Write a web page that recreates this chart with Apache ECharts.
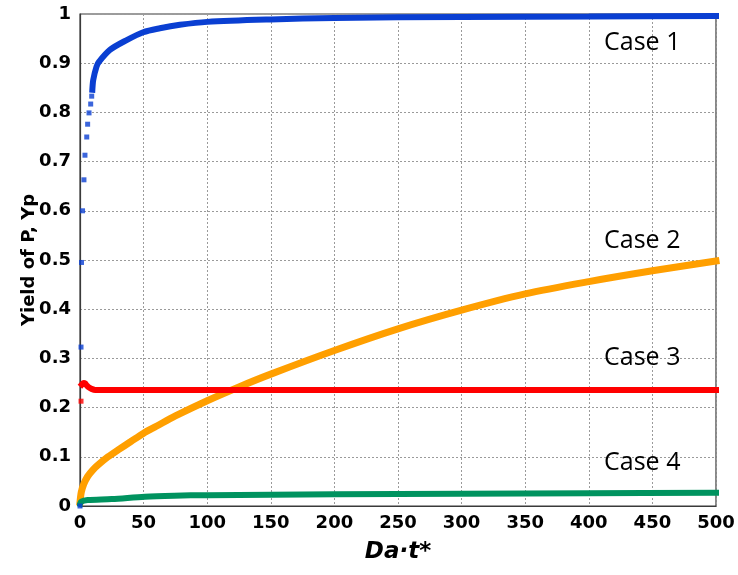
<!DOCTYPE html>
<html>
<head>
<meta charset="utf-8">
<script src="https://cdn.jsdelivr.net/npm/echarts@6/dist/echarts.min.js"></script>
<style>
  html, body { margin: 0; padding: 0; background: #fff; }
  #chart { width: 738px; height: 575px; }
</style>
</head>
<body>
<div id="chart"></div>
<script>
// Dimensionless time Da·t* against yield of P for four cases.
const xTicks = [0, 50, 100, 150, 200, 250, 300, 350, 400, 450, 500];
const yTicks = [0, 0.1, 0.2, 0.3, 0.4, 0.5, 0.6, 0.7, 0.8, 0.9, 1];

// Case 1: first samples are far apart, then the curve becomes dense
const case1Early = [[0, 0], [0.8, 0.323], [1.2, 0.495], [2.0, 0.6], [3.1, 0.663], [3.9, 0.713],
  [5.3, 0.75], [6.0, 0.776], [7.1, 0.799], [8.4, 0.817], [9.2, 0.833]];
const case1Curve = [[9.7, 0.846], [10.4, 0.866], [13, 0.893], [15, 0.903], [23.5, 0.927],
  [36.7, 0.947], [49.7, 0.963], [62.8, 0.971], [78.5, 0.978], [100, 0.984], [150, 0.989],
  [200, 0.992], [300, 0.994], [400, 0.995], [500, 0.996]];

// Case 2
const case2Curve = [[0, 0.008], [1, 0.028], [3, 0.045], [6, 0.06], [10, 0.073], [14, 0.083],
  [22, 0.1], [30, 0.114], [40, 0.131], [50, 0.148], [60, 0.162], [75, 0.183], [100, 0.214],
  [125, 0.242], [150, 0.268], [200, 0.316], [250, 0.360], [300, 0.398], [350, 0.431],
  [400, 0.456], [450, 0.478], [500, 0.498]];

// Case 3
const case3Early = [[0.8, 0.213]];
const case3Curve = [[1.5, 0.247], [3, 0.25], [4, 0.249], [5, 0.246], [7, 0.241], [9, 0.238],
  [12, 0.236], [100, 0.236], [250, 0.236], [500, 0.236]];

// Case 4
const case4Curve = [[0, 0.004], [1, 0.009], [6, 0.012], [25, 0.014], [51, 0.019], [74, 0.021],
  [100, 0.022], [200, 0.024], [300, 0.025], [400, 0.026], [500, 0.027]];

// Case labels, anchored at their left edge / vertical middle in data units
const caseNames = ['Case 1', 'Case 2', 'Case 3', 'Case 4'];
const caseLabelPos = [[412, 0.941], [412, 0.539], [412, 0.301], [412, 0.087]];

const colors = {
  c1: '#0a3fd2',
  c2: '#ff9f00',
  c3: '#ff0000',
  c4: '#00935f'
};

const tickFont = {
  fontFamily: 'DejaVu Sans',
  fontWeight: 'bold',
  fontSize: 18,
  color: '#000'
};

function fmt(v) {
  return String(Math.round(v * 10) / 10);
}

const chart = echarts.init(document.getElementById('chart'), null, { renderer: 'canvas' });

const curveSeries = (name, data, color, width) => ({
  name: name,
  type: 'line',
  data: data,
  smooth: 0.3,
  showSymbol: false,
  symbol: 'none',
  lineStyle: { color: color, width: width, cap: 'square' },
  z: 3,
  animation: false
});

const dotSeries = (name, data, color) => ({
  name: name,
  type: 'scatter',
  data: data,
  symbol: 'rect',
  symbolSize: 5,
  itemStyle: { color: color },
  z: 3,
  animation: false
});

chart.setOption({
  backgroundColor: '#fff',
  animation: false,
  grid: {
    left: 80, right: 22, top: 14, bottom: 69,
    show: true,
    borderColor: '#3a3a3a',
    borderWidth: 1.2
  },
  xAxis: {
    type: 'value',
    min: 0, max: 500, interval: 50,
    name: 'Da·t*',
    nameLocation: 'middle',
    nameGap: 35,
    nameMoveOverlap: false,
    nameTextStyle: {
      fontFamily: 'DejaVu Sans',
      fontWeight: 'bold',
      fontStyle: 'italic',
      fontSize: 23,
      color: '#000'
    },
    axisLine: { show: true, lineStyle: { color: '#3a3a3a', width: 1.2 } },
    axisTick: { show: false },
    axisLabel: Object.assign({ margin: 8, formatter: v => (xTicks.includes(v) ? String(v) : '') }, tickFont),
    splitLine: { show: true, lineStyle: { color: '#9a9a9a', type: [2, 2], width: 1 } }
  },
  yAxis: {
    type: 'value',
    min: 0, max: 1, interval: 0.1,
    name: 'Yield of P, Yp',
    nameLocation: 'middle',
    nameGap: 42,
    nameMoveOverlap: false,
    nameRotate: 90,
    nameTextStyle: {
      fontFamily: 'DejaVu Sans',
      fontWeight: 'bold',
      fontSize: 18,
      color: '#000'
    },
    axisLine: { show: true, lineStyle: { color: '#3a3a3a', width: 1.2 } },
    axisTick: { show: false },
    axisLabel: Object.assign({ margin: 9, formatter: v => fmt(v) }, tickFont),
    splitLine: { show: true, lineStyle: { color: '#9a9a9a', type: [2, 2], width: 1 } }
  },
  series: [
    curveSeries('Case 1', case1Curve, colors.c1, 6),
    dotSeries('Case 1 early', case1Early, colors.c1),
    curveSeries('Case 2', case2Curve, colors.c2, 7),
    curveSeries('Case 3', case3Curve, colors.c3, 6),
    dotSeries('Case 3 early', case3Early, colors.c3),
    curveSeries('Case 4', case4Curve, colors.c4, 6)
  ]
});

// Case names placed through the axis scales
chart.setOption({
  graphic: caseNames.map((name, i) => {
    const p = chart.convertToPixel({ gridIndex: 0 }, caseLabelPos[i]);
    return {
      type: 'text',
      x: p[0],
      y: p[1],
      z: 10,
      silent: true,
      style: {
        text: name,
        fill: '#000',
        font: '25px "Open Sans"',
        textAlign: 'left',
        textVerticalAlign: 'middle'
      }
    };
  })
});
</script>
</body>
</html>
